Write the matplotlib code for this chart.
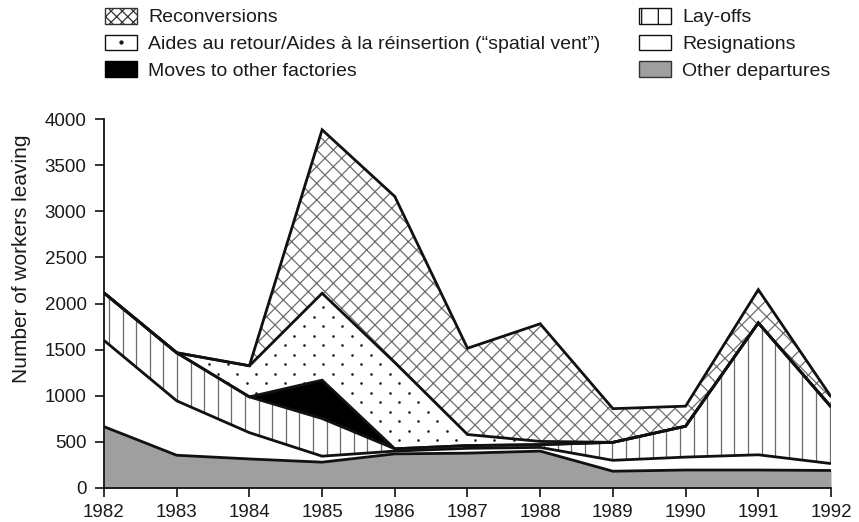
import numpy as np
import matplotlib
matplotlib.use("Agg")
import matplotlib.pyplot as plt
from matplotlib.patches import Patch
from matplotlib.lines import Line2D

plt.rcParams['font.family'] = ['Liberation Sans', 'DejaVu Sans']
plt.rcParams['hatch.linewidth'] = 0.9

# ---- data (workers leaving per year, by category) ----
years = [1982, 1983, 1984, 1985, 1986, 1987, 1988, 1989, 1990, 1991, 1992]
other_departures = [665, 355, 315, 280, 370, 378, 400, 182, 195, 195, 190]
resignations     = [935, 590, 285, 65, 30, 52, 40, 118, 140, 165, 75]
lay_offs         = [515, 521, 388, 408, 25, 30, 30, 195, 335, 1430, 615]
moves_other      = [0, 0, 0, 416, 0, 0, 0, 0, 0, 0, 0]
aides_retour     = [0, 0, 337, 942, 935, 120, 35, 0, 0, 0, 0]
reconversions    = [0, 0, 0, 1772, 1800, 935, 1275, 365, 217, 360, 110]

labels = ["Reconversions",
          "Aides au retour/Aides à la réinsertion (\u201cspatial vent\u201d)",
          "Moves to other factories",
          "Lay-offs", "Resignations", "Other departures"]
yticks = [0, 500, 1000, 1500, 2000, 2500, 3000, 3500, 4000]

x = np.array(years, dtype=float)
series = [other_departures, resignations, lay_offs, moves_other,
          aides_retour, reconversions]
cum = np.cumsum(np.array(series, dtype=float), axis=0)
base = np.vstack([np.zeros(len(years)), cum[:-1]])

W, H = 859, 522
fig = plt.figure(figsize=(W / 100, H / 100), dpi=100)
ax = fig.add_axes([104 / W, 1 - 488 / H, 727 / W, 369 / H])

txt = '#1a1a1a'
gray = '#9f9f9f'

# other departures
ax.fill_between(x, base[0], cum[0], facecolor=gray, edgecolor=gray, linewidth=0)
# resignations
ax.fill_between(x, base[1], cum[1], facecolor='white', edgecolor='white', linewidth=0)
# lay-offs with vertical lines (texture)
lo = ax.fill_between(x, base[2], cum[2], facecolor='white', edgecolor='white', linewidth=0)
xs = np.arange(1982.07, 1992.0, 0.187)
vl = ax.vlines(xs, 0, 4000, colors='#6a6a6a', linewidth=0.9)
vl.set_clip_path(lo.get_paths()[0], ax.transData)
# moves to other factories
ax.fill_between(x, base[3], cum[3], facecolor='black', edgecolor='black', linewidth=0)
# aides au retour (dot texture)
ai = ax.fill_between(x, base[4], cum[4], facecolor='white', edgecolor='white', linewidth=0)
gx, gy = np.meshgrid(np.arange(1982.0, 1992.1, 0.262), np.arange(0, 4200, 206))
dx = np.concatenate([gx.ravel(), gx.ravel() + 0.131])
dy = np.concatenate([gy.ravel(), gy.ravel() + 103])
dots = ax.scatter(dx, dy, s=3.5, color='#1a1a1a', linewidths=0, zorder=2)
dots.set_clip_path(ai.get_paths()[0], ax.transData)
# reconversions (cross-hatch)
ax.fill_between(x, base[5], cum[5], facecolor='white', edgecolor='#6e6e6e',
                linewidth=0, hatch='xx', zorder=2)

# boundary lines
for k in range(len(series)):
    ax.plot(x, cum[k], color='#111111', linewidth=2.0, solid_joinstyle='miter',
            solid_capstyle='butt', zorder=5)

ax.set_xlim(1982, 1992)
ax.set_ylim(0, 4000)
ax.set_xticks(years)
ax.set_xticklabels([str(y) for y in years])
ax.set_yticks(yticks)
for s in ['top', 'right']:
    ax.spines[s].set_visible(False)
for s in ['left', 'bottom']:
    ax.spines[s].set_linewidth(1.3)
    ax.spines[s].set_color('#111111')
ax.tick_params(direction='out', length=6.5, width=1.2, labelsize=13.5,
               colors='#111111', labelcolor=txt)
ax.tick_params(axis='y', pad=6)
ax.tick_params(axis='x', pad=5)
ax.set_ylabel('Number of workers leaving', fontsize=15, color=txt)
ax.yaxis.set_label_coords(-0.10, 0.62)

# legend
handles = [
    Patch(facecolor='white', edgecolor='#333333', hatch='xxx', linewidth=1.0),
    Patch(facecolor='white', edgecolor='#111111', linewidth=1.0),
    Patch(facecolor='black', edgecolor='black', linewidth=1.0),
    Patch(facecolor='white', edgecolor='#111111', hatch='|', linewidth=1.0),
    Patch(facecolor='white', edgecolor='#111111', linewidth=1.0),
    Patch(facecolor=gray, edgecolor='#333333', linewidth=1.0),
]
leg = fig.legend(handles, labels, ncol=2, loc='upper left',
                 bbox_to_anchor=(105 / W, 1 - 8 / H), frameon=False,
                 fontsize=14, handlelength=1.65, handleheight=0.85,
                 handletextpad=0.57, columnspacing=2.0, labelspacing=0.42,
                 borderpad=0, borderaxespad=0)
for t in leg.get_texts():
    t.set_color(txt)
# single dot inside the "Aides" legend box
fig.canvas.draw()
bb = leg.get_patches()[1].get_window_extent()
fig.add_artist(Line2D([(bb.x0 + bb.x1) / 2 / W], [(bb.y0 + bb.y1) / 2 / H],
                      marker='o', markersize=2.1, color='#1a1a1a',
                      linestyle='none', transform=fig.transFigure, zorder=20))

fig.savefig('out.png', dpi=100)
